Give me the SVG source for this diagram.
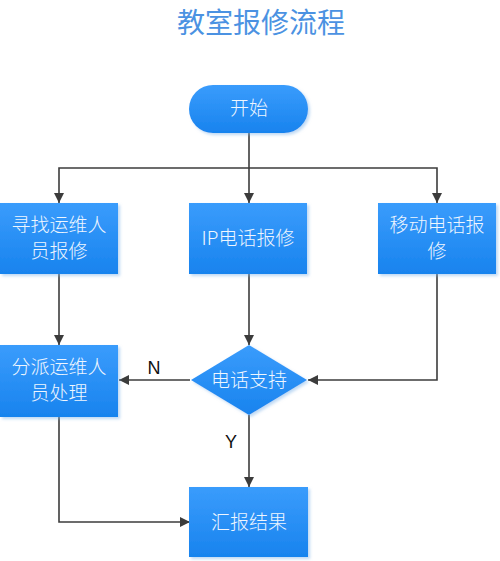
<svg xmlns="http://www.w3.org/2000/svg" width="500" height="561" viewBox="0 0 500 561">
<defs>
<linearGradient id="g" x1="0" y1="0" x2="0" y2="1">
<stop offset="0" stop-color="#3a9cfc"/>
<stop offset="1" stop-color="#1883ee"/>
</linearGradient>
<filter id="sh" x="-10%" y="-10%" width="130%" height="130%">
<feDropShadow dx="2" dy="2" stdDeviation="1.5" flood-color="#7fb4e8" flood-opacity="0.5"/>
</filter>
<marker id="ar" viewBox="0 0 10 10" refX="10" refY="5" markerWidth="10" markerHeight="10" markerUnits="userSpaceOnUse" orient="auto">
<path d="M0,0 L10,5 L0,10 Z" fill="#3c3c3c"/>
</marker>
<style>
.n{fill:url(#g);filter:url(#sh)}
.t{fill:#eef6ff;font-family:"Noto Sans CJK SC","Liberation Sans",sans-serif;font-size:19px;font-weight:300;text-anchor:middle}
.c{fill:none;stroke:#3c3c3c;stroke-width:1.6;marker-end:url(#ar)}
.l{fill:#111;font-family:"Liberation Sans",Arial,sans-serif;font-size:18px;text-anchor:middle}
</style>
</defs>
<rect width="500" height="561" fill="#fff"/>
<text x="261" y="33" fill="#4b92e2" font-family="Noto Sans CJK SC,sans-serif" font-size="28" text-anchor="middle">教室报修流程</text>
<g id="connectors">
<path class="c" d="M249,133 V203"/>
<path class="c" d="M249,168 H59 V203"/>
<path class="c" d="M249,168 H437 V203"/>
<path class="c" d="M59,274 V345"/>
<path class="c" d="M249,274 V345"/>
<path class="c" d="M437,274 V380 H308"/>
<path class="c" d="M190,380 H119"/>
<path class="c" d="M249,415 V487"/>
<path class="c" d="M59,417 V522 H190"/>
<text class="l" x="154" y="374">N</text>
<text class="l" x="231" y="448">Y</text>
</g>
<g id="start">
<rect class="n" x="189" y="85" width="119" height="48" rx="24"/>
<text class="t" x="249" y="115">开始</text>
</g>
<g id="find">
<rect class="n" x="0" y="203" width="118" height="71"/>
<text class="t" x="59" y="232">寻找运维人</text>
<text class="t" x="59" y="258">员报修</text>
</g>
<g id="ip">
<rect class="n" x="189" y="203" width="118" height="71"/>
<text class="t" x="248" y="245">IP电话报修</text>
</g>
<g id="mobile">
<rect class="n" x="378" y="203" width="118" height="71"/>
<text class="t" x="437" y="232">移动电话报</text>
<text class="t" x="437" y="258">修</text>
</g>
<g id="dispatch">
<rect class="n" x="0" y="345" width="118" height="72"/>
<text class="t" x="59" y="374">分派运维人</text>
<text class="t" x="59" y="400">员处理</text>
</g>
<g id="support">
<path class="n" d="M249,345 L307,380 L249,415 L191,380 Z"/>
<text class="t" x="249" y="387">电话支持</text>
</g>
<g id="report">
<rect class="n" x="189" y="487" width="119" height="70"/>
<text class="t" x="249" y="529">汇报结果</text>
</g>
</svg>
